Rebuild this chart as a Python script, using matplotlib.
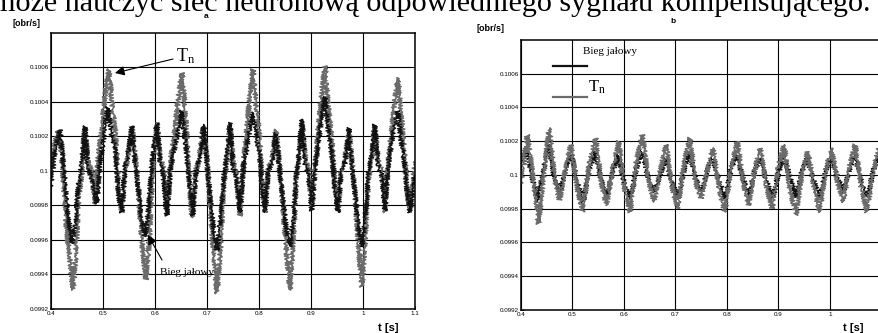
import matplotlib
matplotlib.use("Agg")
import matplotlib.pyplot as plt
from matplotlib.lines import Line2D

# ---- data ----
# panel a: Tn (gray)
ta_tn = [0.400, 0.407, 0.4135, 0.421, 0.430, 0.436, 0.4423,
         0.448, 0.453, 0.459, 0.4654, 0.471, 0.478, 0.4846,
         0.491, 0.497, 0.504, 0.5115, 0.518, 0.524, 0.530, 0.5365,
         0.542, 0.548, 0.5558, 0.562, 0.568, 0.575, 0.5827,
         0.589, 0.595, 0.6038, 0.610, 0.616, 0.6231,
         0.630, 0.637, 0.644, 0.6519, 0.658, 0.664, 0.6712,
         0.678, 0.685, 0.6923, 0.699, 0.705, 0.712, 0.7192,
         0.726, 0.732, 0.738, 0.7442, 0.750, 0.757, 0.7635,
         0.770, 0.776, 0.782, 0.7885, 0.795, 0.801, 0.806, 0.8115,
         0.818, 0.825, 0.8327, 0.839, 0.845, 0.852, 0.8596,
         0.866, 0.872, 0.877, 0.8827, 0.889, 0.895, 0.9019,
         0.908, 0.914, 0.920, 0.9269, 0.933, 0.940, 0.946, 0.9519,
         0.958, 0.965, 0.9731, 0.979, 0.985, 0.991, 0.9981,
         1.004, 1.010, 1.016, 1.0231, 1.029, 1.036, 1.0423,
         1.048, 1.054, 1.060, 1.0673, 1.073, 1.079, 1.085, 1.0904,
         1.095, 1.100]
va_tn = [0.09999, 0.10014, 0.10024, 0.10008, 0.09966, 0.09950, 0.09931,
         0.09952, 0.09985, 0.09998, 0.10026, 0.10005, 0.10000, 0.09981,
         0.10010, 0.10022, 0.10045, 0.10059, 0.10038, 0.10022, 0.09990, 0.09976,
         0.10000, 0.10008, 0.10026, 0.10008, 0.09990, 0.09958, 0.09937,
         0.09960, 0.09998, 0.10028, 0.10008, 0.10002, 0.09976,
         0.10006, 0.10020, 0.10040, 0.10057, 0.10036, 0.10004, 0.09973,
         0.10000, 0.10006, 0.10026, 0.10010, 0.09985, 0.09955, 0.09929,
         0.09956, 0.09990, 0.10004, 0.10027, 0.10006, 0.09998, 0.09974,
         0.10004, 0.10022, 0.10042, 0.10059, 0.10036, 0.10020, 0.09994, 0.09976,
         0.10002, 0.10006, 0.10024, 0.10004, 0.09984, 0.09956, 0.09931,
         0.09960, 0.09996, 0.10008, 0.10028, 0.10008, 0.10002, 0.09979,
         0.10004, 0.10024, 0.10044, 0.10061, 0.10038, 0.10018, 0.09992, 0.09977,
         0.10000, 0.10006, 0.10024, 0.10004, 0.09986, 0.09958, 0.09933,
         0.09958, 0.09994, 0.10006, 0.10026, 0.10006, 0.10000, 0.09976,
         0.10004, 0.10020, 0.10038, 0.10054, 0.10034, 0.10014, 0.09990, 0.09976,
         0.09990, 0.10005]

# panel a: Bieg jalowy (black)
ta_bj = [0.400, 0.408, 0.4173, 0.424, 0.431, 0.4404,
         0.447, 0.453, 0.459, 0.4654, 0.471, 0.478, 0.4885,
         0.494, 0.500, 0.5096, 0.516, 0.523, 0.530, 0.5365,
         0.542, 0.548, 0.5558, 0.562, 0.568, 0.574, 0.5808,
         0.587, 0.594, 0.6038, 0.610, 0.616, 0.6231,
         0.630, 0.637, 0.644, 0.6519, 0.658, 0.665, 0.6731,
         0.680, 0.687, 0.6942, 0.700, 0.706, 0.712, 0.7192,
         0.726, 0.733, 0.738, 0.7442, 0.750, 0.757, 0.7635,
         0.770, 0.776, 0.782, 0.7885, 0.795, 0.801, 0.806, 0.8115,
         0.818, 0.825, 0.8327, 0.839, 0.845, 0.852, 0.8596,
         0.866, 0.872, 0.877, 0.8827, 0.889, 0.895, 0.9019,
         0.908, 0.914, 0.920, 0.9269, 0.933, 0.940, 0.946, 0.9519,
         0.958, 0.965, 0.9731, 0.979, 0.985, 0.991, 0.9981,
         1.004, 1.010, 1.016, 1.0231, 1.029, 1.036, 1.0423,
         1.048, 1.054, 1.060, 1.0673, 1.073, 1.079, 1.085, 1.0904,
         1.095, 1.100]
va_bj = [0.09991, 0.10012, 0.10024, 0.10004, 0.09978, 0.09958,
         0.09970, 0.09992, 0.10004, 0.10026, 0.10002, 0.09996, 0.09981,
         0.10004, 0.10016, 0.10037, 0.10022, 0.10014, 0.09986, 0.09976,
         0.10002, 0.10010, 0.10026, 0.10004, 0.09990, 0.09972, 0.09962,
         0.09976, 0.10004, 0.10028, 0.10004, 0.09998, 0.09974,
         0.10002, 0.10012, 0.10022, 0.10035, 0.10018, 0.09996, 0.09974,
         0.10002, 0.10008, 0.10027, 0.10004, 0.09986, 0.09968, 0.09954,
         0.09972, 0.09998, 0.10008, 0.10028, 0.10002, 0.09996, 0.09976,
         0.10002, 0.10012, 0.10024, 0.10034, 0.10020, 0.10010, 0.09990, 0.09976,
         0.10000, 0.10004, 0.10022, 0.10002, 0.09986, 0.09968, 0.09956,
         0.09972, 0.09998, 0.10010, 0.10030, 0.10004, 0.09998, 0.09977,
         0.10002, 0.10016, 0.10030, 0.10043, 0.10024, 0.10010, 0.09988, 0.09976,
         0.10000, 0.10004, 0.10025, 0.10002, 0.09986, 0.09968, 0.09956,
         0.09972, 0.09998, 0.10008, 0.10027, 0.10004, 0.09998, 0.09977,
         0.10002, 0.10014, 0.10026, 0.10035, 0.10018, 0.10006, 0.09988, 0.09976,
         0.09986, 0.09998]

# panel b: Tn (gray)
tb_tn = [0.400, 0.406, 0.412, 0.422, 0.434, 0.444, 0.455, 0.465,
         0.475, 0.486, 0.497, 0.508, 0.520, 0.532, 0.545, 0.556,
         0.566, 0.578, 0.590, 0.601, 0.612, 0.624, 0.636, 0.647,
         0.658, 0.670, 0.682, 0.693, 0.704, 0.716, 0.728, 0.739,
         0.750, 0.761, 0.773, 0.784, 0.796, 0.808, 0.820, 0.831,
         0.842, 0.853, 0.865, 0.876, 0.888, 0.899, 0.911, 0.922,
         0.934, 0.945, 0.957, 0.968, 0.980, 0.991, 1.003, 1.014,
         1.026, 1.037, 1.049, 1.060, 1.072, 1.083, 1.095, 1.100]
vb_tn = [0.09995, 0.10006, 0.10024, 0.10002, 0.09971, 0.10000, 0.10028, 0.09998,
         0.09985, 0.10004, 0.10018, 0.09994, 0.09978, 0.10006, 0.10022, 0.09996,
         0.09982, 0.10004, 0.10020, 0.09992, 0.09978, 0.10008, 0.10024, 0.09998,
         0.09984, 0.10002, 0.10018, 0.09994, 0.09980, 0.10006, 0.10022, 0.09996,
         0.09986, 0.10002, 0.10016, 0.09992, 0.09978, 0.10004, 0.10020, 0.09996,
         0.09982, 0.10002, 0.10016, 0.09994, 0.09980, 0.10004, 0.10018, 0.09992,
         0.09976, 0.10000, 0.10014, 0.09994, 0.09978, 0.10002, 0.10016, 0.09996,
         0.09984, 0.10004, 0.10018, 0.09994, 0.09978, 0.10002, 0.10016, 0.10006]

# panel b: Bieg jalowy (black)
tb_bj = [0.400, 0.410, 0.421, 0.432, 0.443, 0.454, 0.465, 0.476,
         0.487, 0.498, 0.509, 0.521, 0.532, 0.544, 0.555, 0.567,
         0.578, 0.589, 0.601, 0.613, 0.624, 0.635, 0.647, 0.659,
         0.670, 0.681, 0.693, 0.705, 0.716, 0.727, 0.739, 0.751,
         0.761, 0.772, 0.785, 0.797, 0.808, 0.819, 0.831, 0.843,
         0.853, 0.864, 0.877, 0.889, 0.899, 0.910, 0.923, 0.935,
         0.945, 0.956, 0.969, 0.981, 0.991, 1.002, 1.015, 1.027,
         1.037, 1.048, 1.061, 1.073, 1.083, 1.094, 1.100]
vb_bj = [0.10008, 0.10016, 0.10000, 0.09984, 0.10002, 0.10018, 0.09998, 0.09990,
         0.10004, 0.10012, 0.09996, 0.09984, 0.10002, 0.10014, 0.09998, 0.09988,
         0.10002, 0.10012, 0.09994, 0.09986, 0.10004, 0.10014, 0.09998, 0.09990,
         0.10000, 0.10010, 0.09996, 0.09986, 0.10002, 0.10014, 0.09998, 0.09990,
         0.10002, 0.10010, 0.09996, 0.09986, 0.10004, 0.10012, 0.09998, 0.09988,
         0.10002, 0.10010, 0.09996, 0.09986, 0.10000, 0.10012, 0.09998, 0.09986,
         0.10002, 0.10010, 0.09996, 0.09986, 0.10002, 0.10010, 0.09998, 0.09990,
         0.10002, 0.10012, 0.09996, 0.09986, 0.10002, 0.10010, 0.10004]

yticks = [0.0992, 0.0994, 0.0996, 0.0998, 0.1, 0.1002, 0.1004, 0.1006]
ytick_labels = ["0.0992", "0.0994", "0.0996", "0.0998", "0.1", "0.1002", "0.1004", "0.1006"]
xticks = [0.4, 0.5, 0.6, 0.7, 0.8, 0.9, 1.0, 1.1]
xtick_labels = ["0.4", "0.5", "0.6", "0.7", "0.8", "0.9", "1", "1.1"]

top_line = "może nauczyć sieć neuronową odpowiedniego sygnału kompensującego."

# ---- figure ----
plt.rcParams['font.family'] = ['Liberation Sans', 'DejaVu Sans']
plt.rcParams['mathtext.fontset'] = 'custom'
plt.rcParams['mathtext.rm'] = 'Liberation Serif'
plt.rcParams['mathtext.it'] = 'Liberation Serif'

GRAY = '#6b6b6b'
BLACK = '#111111'

fig = plt.figure(figsize=(8.79, 3.33), dpi=100)
ax1 = fig.add_axes([0.0580, 0.0721, 0.4141, 0.8288])
ax2 = fig.add_axes([0.5927, 0.0691, 0.4101, 0.8108])

def style(ax):
    ax.set_xlim(0.4, 1.1)
    ax.set_ylim(0.0992, 0.1008)
    ax.set_xticks(xticks)
    ax.set_xticklabels(xtick_labels)
    ax.set_yticks(yticks)
    ax.set_yticklabels(ytick_labels)
    ax.tick_params(labelsize=4.5, length=2, width=0.6, direction='in', pad=1.5)
    ax.grid(True, color='black', linewidth=0.8)
    ax.set_axisbelow(True)
    for s in ax.spines.values():
        s.set_linewidth(1.1)

for ax in (ax1, ax2):
    style(ax)
# the 1.1 label of panel b falls outside the page
ax2.set_xticklabels(xtick_labels[:-1] + [""])

# noisy look of the measured signals: sketch style on thin lines
l1, = ax1.plot(ta_tn, va_tn, color=GRAY, lw=1.2)
l2, = ax1.plot(ta_bj, va_bj, color=BLACK, lw=1.0)
l3, = ax2.plot(tb_bj, vb_bj, color=BLACK, lw=1.0)
l4, = ax2.plot(tb_tn, vb_tn, color=GRAY, lw=1.1)
for ln in (l1, l2, l3, l4):
    ln.set_sketch_params(scale=2.4, length=1.8, randomness=1.5)

# annotations panel a
ax1.annotate("", xy=(0.523, 0.100568), xytext=(0.6346, 0.100649),
             arrowprops=dict(arrowstyle='-|>', mutation_scale=14, color='black',
                             lw=0.8, shrinkA=0, shrinkB=0))
ax1.text(0.641, 0.100667, r"$\mathrm{T_n}$", fontsize=13, va='center', ha='left')
ax1.annotate("", xy=(0.5865, 0.099629), xytext=(0.6135, 0.099484),
             arrowprops=dict(arrowstyle='-|>', mutation_scale=14, color='black',
                             lw=0.8, shrinkA=0, shrinkB=0))
ax1.text(0.6096, 0.099409, "Bieg jałowy", fontsize=8, family='Liberation Serif',
         va='center', ha='left')

# legend-like labels panel b
ax2.add_line(Line2D([0.089, 0.183], [0.904, 0.904], transform=ax2.transAxes,
                    color=BLACK, lw=1.6))
ax2.add_line(Line2D([0.089, 0.183], [0.789, 0.789], transform=ax2.transAxes,
                    color=GRAY, lw=1.6))
ax2.text(0.172, 0.959, "Bieg jałowy", transform=ax2.transAxes, fontsize=8,
         family='Liberation Serif', va='center', ha='left')
ax2.text(0.186, 0.825, r"$\mathrm{T_n}$", transform=ax2.transAxes, fontsize=12,
         va='center', ha='left')

# titles and axis labels
fig.text(0.2344, 0.950, "a", fontsize=6, weight='bold', ha='center', va='center')
fig.text(0.7656, 0.935, "b", fontsize=6, weight='bold', ha='center', va='center')
fig.text(0.0307, 0.928, "[obr/s]", fontsize=6.5, weight='bold', ha='center', va='center')
fig.text(0.5575, 0.913, "[obr/s]", fontsize=6.5, weight='bold', ha='center', va='center')
fig.text(0.4414, 0.016, "t [s]", fontsize=8, weight='bold', ha='center', va='center')
fig.text(0.9704, 0.016, "t [s]", fontsize=8, weight='bold', ha='center', va='center')

# page text cut at the top
fig.text(871 / 879, 1 - 11 / 333, top_line, fontsize=21.7, family='Liberation Serif',
         ha='right', va='baseline')

fig.savefig("out.png", dpi=100)
